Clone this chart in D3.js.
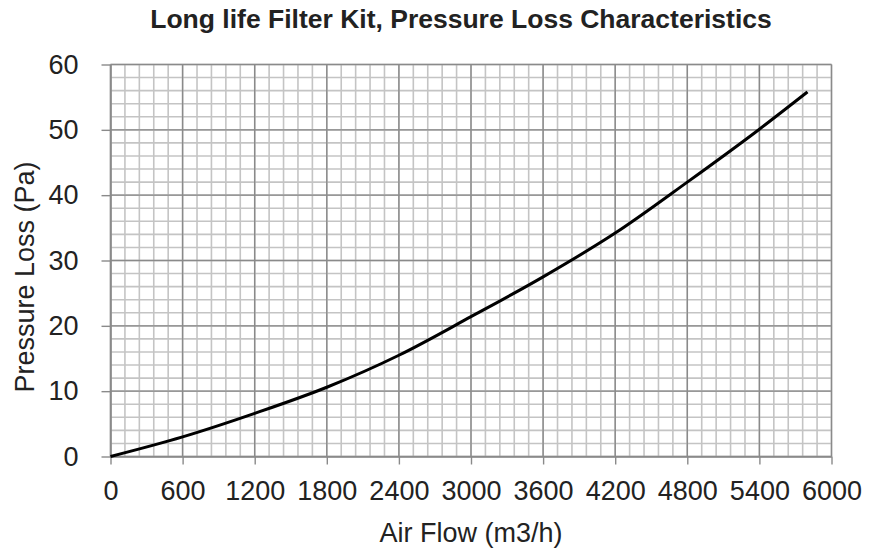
<!DOCTYPE html>
<html>
<head>
<meta charset="utf-8">
<script src="https://cdn.jsdelivr.net/npm/d3@7"></script>
<style>
  body { margin: 0; background: #fff; }
  text { font-family: "Liberation Sans", Arial, sans-serif; fill: #222; }
</style>
</head>
<body>
<svg width="869" height="554"></svg>
<script>
var svg = d3.select("svg");

// Data
var airFlow = [0, 600, 1200, 1800, 2400, 3000, 3600, 4200, 4800, 5400, 5800];
var pressureLoss = [0, 3.0, 6.6, 10.6, 15.5, 21.4, 27.5, 34.2, 42.0, 50.1, 55.8];
var xTicks = [0, 600, 1200, 1800, 2400, 3000, 3600, 4200, 4800, 5400, 6000];
var yTicks = [0, 10, 20, 30, 40, 50, 60];

var points = airFlow.map(function(d, i) { return { q: d, p: pressureLoss[i] }; });

// Scales
var x = d3.scaleLinear().domain([0, 6000]).range([110.5, 831.5]);
var y = d3.scaleLinear().domain([0, 60]).range([456.5, 64.5]);

// Minor grid
var grid = svg.append("g");
grid.selectAll(".vminor")
    .data(d3.range(0, 6001, 120))
    .enter().append("line")
    .attr("x1", function(d) { return x(d); })
    .attr("x2", function(d) { return x(d); })
    .attr("y1", y(0)).attr("y2", y(60))
    .style("stroke", "#c4c4c4").style("stroke-width", 1.6);
grid.selectAll(".hminor")
    .data(d3.range(0, 61, 2))
    .enter().append("line")
    .attr("y1", function(d) { return y(d); })
    .attr("y2", function(d) { return y(d); })
    .attr("x1", x(0)).attr("x2", x(6000))
    .style("stroke", "#c4c4c4").style("stroke-width", 1.6);

// Major grid
grid.selectAll(".vmajor")
    .data(xTicks)
    .enter().append("line")
    .attr("x1", function(d) { return x(d); })
    .attr("x2", function(d) { return x(d); })
    .attr("y1", y(0)).attr("y2", y(60))
    .style("stroke", "#8a8a8a").style("stroke-width", 1.4);
grid.selectAll(".hmajor")
    .data(yTicks)
    .enter().append("line")
    .attr("y1", function(d) { return y(d); })
    .attr("y2", function(d) { return y(d); })
    .attr("x1", x(0)).attr("x2", x(6000))
    .style("stroke", "#8a8a8a").style("stroke-width", 1.4);

// Axes
var xAxis = svg.append("g")
    .attr("transform", "translate(0," + y(0) + ")")
    .call(d3.axisBottom(x).tickValues(xTicks).tickFormat(d3.format("d"))
        .tickSize(8).tickSizeOuter(0).tickPadding(16));
var yAxis = svg.append("g")
    .attr("transform", "translate(" + x(0) + ",0)")
    .call(d3.axisLeft(y).tickValues(yTicks).tickFormat(d3.format("d"))
        .tickSize(9).tickSizeOuter(0).tickPadding(23));

[xAxis, yAxis].forEach(function(a) {
    a.attr("font-size", null).attr("font-family", null);
    a.select(".domain").style("stroke", "#8a8a8a").style("stroke-width", 1.6);
    a.selectAll(".tick line").style("stroke", "#8a8a8a").style("stroke-width", 1.4);
    a.selectAll(".tick text")
        .style("font-size", "27px").style("fill", "#222");
});

// Curve
var line = d3.line()
    .x(function(d) { return x(d.q); })
    .y(function(d) { return y(d.p); })
    .curve(d3.curveMonotoneX);
svg.append("path")
    .datum(points)
    .attr("d", line)
    .style("fill", "none")
    .style("stroke", "#000")
    .style("stroke-width", 3);

// Title and axis labels
svg.append("text")
    .attr("x", 461).attr("y", 28)
    .attr("text-anchor", "middle")
    .style("font-size", "26.5px").style("font-weight", "bold")
    .text("Long life Filter Kit, Pressure Loss Characteristics");

svg.append("text")
    .attr("x", 471).attr("y", 542)
    .attr("text-anchor", "middle")
    .style("font-size", "27px")
    .text("Air Flow (m3/h)");

svg.append("text")
    .attr("transform", "translate(34,277) rotate(-90)")
    .attr("text-anchor", "middle")
    .style("font-size", "27px")
    .text("Pressure Loss (Pa)");
</script>
</body>
</html>
